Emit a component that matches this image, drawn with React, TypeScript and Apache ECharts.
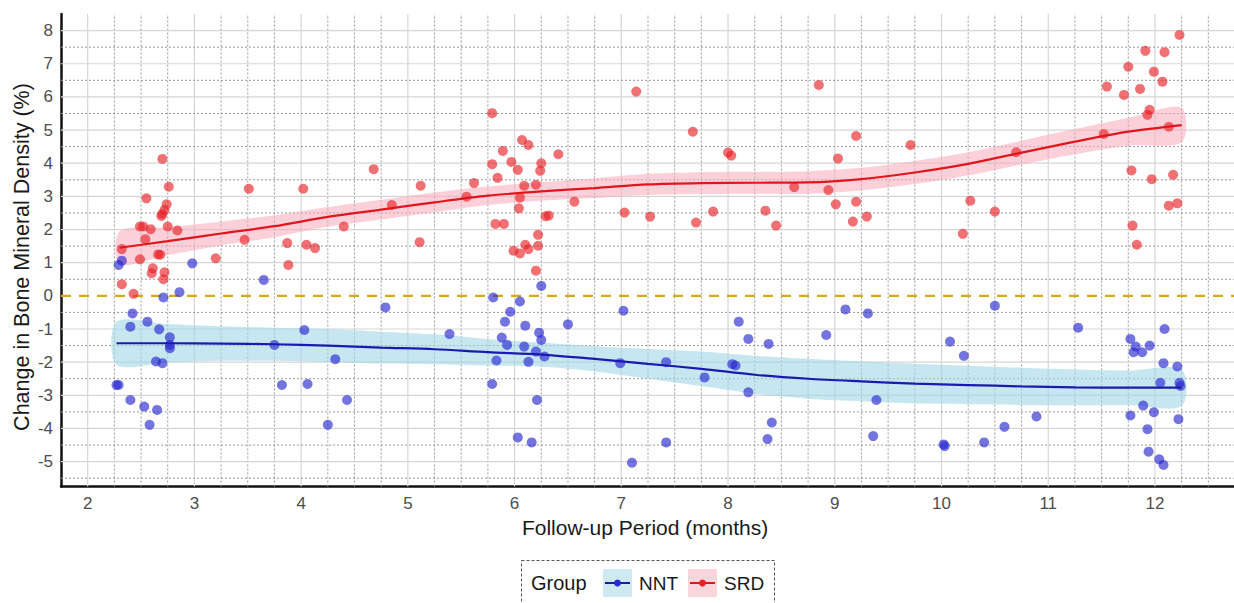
import React, { useEffect, useRef } from "react";
import * as echarts from "echarts";

// Change in bone mineral density (%) against follow-up time (months)
const srdPoints: [number, number][] = [
  [2.32, 1.41], [2.32, 0.35], [2.43, 0.06], [2.49, 2.09], [2.49, 1.10], [2.52, 2.09],
  [2.54, 1.71], [2.55, 2.94], [2.59, 2.01], [2.61, 0.83], [2.60, 0.68], [2.66, 1.25],
  [2.68, 1.24], [2.69, 2.41], [2.70, 2.47], [2.70, 4.13], [2.71, 0.50], [2.72, 2.59],
  [2.72, 0.71], [2.74, 2.76], [2.75, 2.09], [2.76, 3.29], [2.84, 1.97], [3.20, 1.13],
  [3.47, 1.69], [3.51, 3.23], [3.87, 1.59], [3.88, 0.93], [4.02, 3.23], [4.05, 1.54],
  [4.13, 1.44], [4.40, 2.09], [4.68, 3.82], [4.85, 2.74], [5.11, 1.62], [5.12, 3.32],
  [5.55, 2.99], [5.62, 3.40], [5.79, 5.51], [5.79, 3.97], [5.82, 2.17], [5.84, 3.56],
  [5.89, 4.37], [5.90, 2.17], [5.97, 4.04], [5.99, 1.36], [6.03, 3.80], [6.04, 2.64],
  [6.05, 2.96], [6.05, 1.28], [6.07, 4.70], [6.09, 3.32], [6.10, 1.54], [6.13, 4.55],
  [6.13, 1.41], [6.20, 3.35], [6.20, 0.76], [6.22, 1.84], [6.22, 1.51], [6.24, 3.77],
  [6.25, 4.00], [6.29, 2.40], [6.32, 2.42], [6.41, 4.27], [6.56, 2.84], [7.03, 2.51],
  [7.14, 6.16], [7.27, 2.39], [7.67, 4.95], [7.70, 2.21], [7.86, 2.54], [8.00, 4.32],
  [8.03, 4.23], [8.35, 2.57], [8.45, 2.12], [8.62, 3.28], [8.85, 6.36], [8.94, 3.19],
  [9.01, 2.76], [9.03, 4.14], [9.17, 2.24], [9.20, 4.82], [9.20, 2.84], [9.30, 2.39],
  [9.71, 4.55], [10.20, 1.87], [10.27, 2.87], [10.50, 2.54], [10.70, 4.33], [11.52, 4.88],
  [11.55, 6.31], [11.71, 6.06], [11.75, 6.91], [11.78, 3.78], [11.79, 2.12], [11.83, 1.54],
  [11.86, 6.24], [11.91, 7.39], [11.93, 5.46], [11.95, 5.61], [11.97, 3.52], [11.99, 6.76],
  [12.07, 6.46], [12.09, 7.35], [12.13, 5.10], [12.13, 2.72], [12.17, 3.65], [12.21, 2.79],
  [12.23, 7.87],
];

const nntPoints: [number, number][] = [
  [2.27, -2.69], [2.29, -2.69], [2.29, 0.93], [2.32, 1.06], [2.40, -0.93], [2.40, -3.14],
  [2.42, -0.53], [2.53, -3.34], [2.56, -0.78], [2.58, -3.89], [2.64, -1.98], [2.65, -3.44],
  [2.67, -1.01], [2.70, -2.03], [2.71, -0.05], [2.77, -1.25], [2.77, -1.48], [2.77, -1.58],
  [2.86, 0.11], [2.98, 0.98], [3.65, 0.48], [3.75, -1.48], [3.82, -2.69], [4.03, -1.03],
  [4.06, -2.66], [4.25, -3.89], [4.32, -1.91], [4.43, -3.14], [4.79, -0.35], [5.39, -1.15],
  [5.79, -2.66], [5.80, -0.05], [5.83, -1.95], [5.88, -1.26], [5.91, -0.78], [5.93, -1.48],
  [5.96, -0.48], [6.03, -4.27], [6.05, -0.17], [6.09, -1.53], [6.10, -0.90], [6.13, -1.99],
  [6.16, -4.42], [6.20, -1.68], [6.21, -3.14], [6.23, -1.11], [6.25, -1.33], [6.25, 0.30],
  [6.28, -1.83], [6.50, -0.86], [6.99, -2.03], [7.02, -0.45], [7.10, -5.03], [7.42, -2.00],
  [7.42, -4.42], [7.78, -2.46], [8.04, -2.06], [8.07, -2.10], [8.10, -0.78], [8.19, -1.30],
  [8.19, -2.91], [8.37, -4.32], [8.38, -1.45], [8.41, -3.82], [8.92, -1.18], [9.10, -0.41],
  [9.31, -0.53], [9.36, -4.23], [9.39, -3.14], [10.02, -4.48], [10.03, -4.53], [10.08, -1.38],
  [10.21, -1.81], [10.40, -4.42], [10.50, -0.30], [10.59, -3.95], [10.89, -3.64], [11.28, -0.96],
  [11.77, -1.30], [11.77, -3.61], [11.80, -1.70], [11.82, -1.53], [11.88, -1.70], [11.89, -3.31],
  [11.93, -4.02], [11.94, -4.70], [11.95, -1.50], [11.99, -3.51], [12.04, -4.93], [12.05, -2.62],
  [12.08, -2.03], [12.08, -5.10], [12.09, -1.00], [12.21, -2.13], [12.22, -3.72], [12.23, -2.62],
  [12.24, -2.72],
];

// Smoothed trend with confidence band
const srdFitX = [2.3, 2.75, 3.25, 3.75, 4.25, 4.75, 5.25, 5.75, 6.25, 6.75, 7.25, 7.75, 8.25, 8.75, 9.25, 9.75, 10.25, 10.75, 11.25, 11.75, 12.25];
const srdFit = [1.45, 1.65, 1.88, 2.1, 2.38, 2.6, 2.82, 3.02, 3.15, 3.25, 3.36, 3.4, 3.41, 3.42, 3.52, 3.72, 3.98, 4.32, 4.65, 4.95, 5.15];
const srdLower = [0.95, 1.23, 1.52, 1.77, 2.08, 2.3, 2.52, 2.74, 2.87, 2.95, 3.04, 3.07, 3.08, 3.08, 3.18, 3.37, 3.63, 3.96, 4.27, 4.53, 4.63];
const srdUpper = [1.95, 2.07, 2.24, 2.43, 2.68, 2.9, 3.12, 3.3, 3.43, 3.55, 3.68, 3.73, 3.74, 3.76, 3.86, 4.07, 4.33, 4.68, 5.03, 5.37, 5.67];

const nntFitX = [2.27, 2.75, 3.25, 3.75, 4.25, 4.75, 5.25, 5.75, 6.25, 6.75, 7.25, 7.75, 8.25, 8.75, 9.25, 9.75, 10.25, 10.75, 11.25, 11.75, 12.25];
const nntFit = [-1.43, -1.43, -1.44, -1.46, -1.5, -1.56, -1.61, -1.7, -1.77, -1.9, -2.05, -2.2, -2.38, -2.5, -2.58, -2.65, -2.69, -2.73, -2.76, -2.77, -2.77];
const nntLower = [-2.08, -2.01, -1.96, -1.96, -2.0, -2.04, -2.06, -2.1, -2.13, -2.28, -2.5, -2.72, -2.95, -3.1, -3.18, -3.25, -3.27, -3.29, -3.3, -3.29, -3.32];
const nntUpper = [-0.78, -0.85, -0.92, -0.96, -1.0, -1.08, -1.16, -1.3, -1.41, -1.52, -1.6, -1.68, -1.81, -1.9, -1.98, -2.05, -2.11, -2.17, -2.22, -2.25, -2.22];

const xTickLabels = [2, 3, 4, 5, 6, 7, 8, 9, 10, 11, 12];
const yTickLabels = [-5, -4, -3, -2, -1, 0, 1, 2, 3, 4, 5, 6, 7, 8];

const X_MIN = 1.75;
const X_MAX = 12.75;
const Y_MIN = -5.75;
const Y_MAX = 8.5;
const FONT = "Liberation Sans, Arial, sans-serif";

const RED_PT = "rgba(232, 32, 38, 0.8)";
const BLUE_PT = "rgba(38, 38, 208, 0.8)";
const RED_LINE = "#e0161c";
const BLUE_LINE = "#1a1ab0";
const RED_BAND = "rgba(250, 170, 185, 0.55)";
const BLUE_BAND = "rgba(160, 214, 230, 0.6)";

// kind 0: solid major line, 1: dotted minor line, 2: dashed zero reference
function buildGridLines() {
  const lines: number[][] = [];
  for (let v = 2; v <= 12.5; v += 0.25) {
    lines.push([0, v, Number.isInteger(v) ? 0 : 1]);
  }
  for (let v = -5.5; v <= 8; v += 0.5) {
    if (v === 0) continue;
    lines.push([1, v, Number.isInteger(v) ? 0 : 1]);
  }
  lines.push([1, 0, 2]);
  return lines;
}

function bandSeries(xs: number[], lo: number[], hi: number[], fill: string) {
  return {
    type: "custom",
    z: 2,
    silent: true,
    data: [[xs[0], lo[0]]],
    renderItem: (_params: any, api: any) => {
      const upper = xs.map((x, i) => api.coord([x, hi[i]]));
      const lower = xs.map((x, i) => api.coord([x, lo[i]])).reverse();
      return {
        type: "polygon",
        shape: { points: upper.concat(lower), smooth: 0.3 },
        style: { fill, stroke: "none" },
      };
    },
  };
}

export default function App() {
  const ref = useRef<HTMLDivElement>(null);

  useEffect(() => {
    if (!ref.current) return;
    const chart = echarts.init(ref.current, undefined, { renderer: "svg" });

    const gridLines = buildGridLines();

    const axisLabelBase = {
      interval: 0,
      color: "#4d4d4d",
      fontSize: 17,
      fontFamily: FONT,
    };

    const option: any = {
      animation: false,
      backgroundColor: "#ffffff",
      grid: {
        left: 61,
        top: 14,
        width: 1174,
        height: 472.5,
        containLabel: false,
        outerBoundsMode: "none",
      },
      xAxis: {
        type: "value",
        min: X_MIN,
        max: X_MAX,
        interval: 0.25,
        axisLine: { show: true, onZero: false, lineStyle: { color: "#111", width: 2.5 } },
        axisTick: { show: false },
        splitLine: { show: false },
        axisLabel: {
          ...axisLabelBase,
          margin: 8,
          formatter: (v: number) => (xTickLabels.includes(v) ? String(v) : ""),
        },
      },
      yAxis: {
        type: "value",
        min: Y_MIN,
        max: Y_MAX,
        interval: 0.25,
        axisLine: { show: true, onZero: false, lineStyle: { color: "#111", width: 2.5 } },
        axisTick: { show: false },
        splitLine: { show: false },
        axisLabel: {
          ...axisLabelBase,
          margin: 8,
          formatter: (v: number) => (yTickLabels.includes(v) ? String(v) : ""),
        },
      },
      graphic: [
        {
          type: "text",
          x: 22,
          y: 257,
          rotation: Math.PI / 2,
          style: {
            text: "Change in Bone Mineral Density (%)",
            fontSize: 21.5,
            fontFamily: FONT,
            fill: "#1a1a1a",
            align: "center",
            verticalAlign: "middle",
          },
        },
        {
          type: "text",
          x: 645,
          y: 527,
          style: {
            text: "Follow-up Period (months)",
            fontSize: 21,
            fontFamily: FONT,
            fill: "#1a1a1a",
            align: "center",
            verticalAlign: "middle",
          },
        },
        {
          type: "rect",
          shape: { x: 521.5, y: 560.5, width: 253, height: 60 },
          style: { fill: "none", stroke: "#555", lineWidth: 1, lineDash: [3, 2] },
        },
        {
          type: "text",
          x: 531,
          y: 583,
          style: { text: "Group", fontSize: 20, fontFamily: FONT, fill: "#1a1a1a", verticalAlign: "middle" },
        },
        { type: "rect", shape: { x: 603, y: 569, width: 29, height: 28 }, style: { fill: "#cfe9f1" } },
        {
          type: "line",
          shape: { x1: 605, y1: 583, x2: 630, y2: 583 },
          style: { stroke: BLUE_LINE, lineWidth: 2 },
        },
        { type: "circle", shape: { cx: 617.5, cy: 583, r: 3.5 }, style: { fill: "#2a2ad0" } },
        {
          type: "text",
          x: 639,
          y: 583,
          style: { text: "NNT", fontSize: 19, fontFamily: FONT, fill: "#1a1a1a", verticalAlign: "middle" },
        },
        { type: "rect", shape: { x: 688, y: 569, width: 29, height: 28 }, style: { fill: "#fbd5dc" } },
        {
          type: "line",
          shape: { x1: 690, y1: 583, x2: 715, y2: 583 },
          style: { stroke: RED_LINE, lineWidth: 2 },
        },
        { type: "circle", shape: { cx: 702.5, cy: 583, r: 3.5 }, style: { fill: "#e82026" } },
        {
          type: "text",
          x: 724,
          y: 583,
          style: { text: "SRD", fontSize: 19, fontFamily: FONT, fill: "#1a1a1a", verticalAlign: "middle" },
        },
      ],
      series: [
        {
          type: "custom",
          name: "grid",
          z: 1,
          silent: true,
          data: gridLines,
          renderItem: (_params: any, api: any) => {
            const dir = api.value(0);
            const v = api.value(1);
            const kind = api.value(2);
            const p1 = dir === 0 ? api.coord([v, Y_MIN]) : api.coord([X_MIN, v]);
            const p2 = dir === 0 ? api.coord([v, Y_MAX]) : api.coord([X_MAX, v]);
            let style: any;
            if (kind === 0) style = { stroke: "#d6d6d6", lineWidth: 1.2 };
            else if (kind === 1) style = { stroke: "#9a9a9a", lineWidth: 1, lineDash: [2, 2] };
            else style = { stroke: "#d9a51a", lineWidth: 2.2, lineDash: [10, 8] };
            return {
              type: "line",
              shape: { x1: p1[0], y1: p1[1], x2: p2[0], y2: p2[1] },
              style,
              z2: kind === 2 ? 5 : 0,
            };
          },
        },
        bandSeries(nntFitX, nntLower, nntUpper, BLUE_BAND),
        bandSeries(srdFitX, srdLower, srdUpper, RED_BAND),
        {
          name: "NNT",
          type: "scatter",
          z: 3,
          symbol: "circle",
          symbolSize: 10,
          data: nntPoints,
          itemStyle: { color: BLUE_PT },
        },
        {
          name: "SRD",
          type: "scatter",
          z: 3,
          symbol: "circle",
          symbolSize: 10,
          data: srdPoints,
          itemStyle: { color: RED_PT },
        },
        {
          name: "NNT fit",
          type: "line",
          z: 4,
          smooth: 0.3,
          showSymbol: false,
          data: nntFitX.map((x, i) => [x, nntFit[i]]),
          lineStyle: { color: BLUE_LINE, width: 2.2 },
        },
        {
          name: "SRD fit",
          type: "line",
          z: 4,
          smooth: 0.3,
          showSymbol: false,
          data: srdFitX.map((x, i) => [x, srdFit[i]]),
          lineStyle: { color: RED_LINE, width: 2.2 },
        },
      ],
    };

    chart.setOption(option);
    return () => {
      chart.dispose();
    };
  }, []);

  return (
    <div
      ref={ref}
      style={{ position: "absolute", left: 0, top: 0, width: 1234, height: 603, background: "#fff" }}
    />
  );
}
